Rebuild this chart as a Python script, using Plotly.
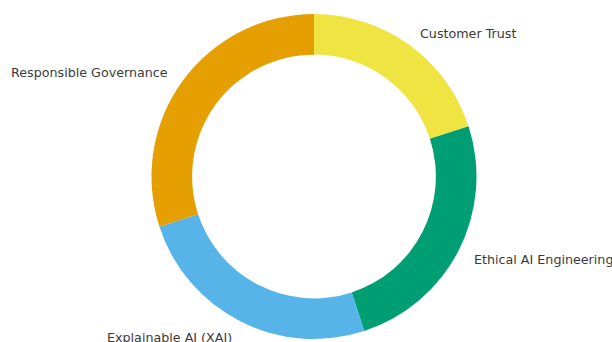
import math
import plotly.graph_objects as go

labels = ["Customer Trust", "Ethical AI Engineering", "Explainable AI (XAI)", "Responsible Governance"]
values = [20, 25, 25, 30]
colors = ["#F0E442", "#009E73", "#56B4E9", "#E69F00"]

W, H = 612, 342
cx, cy, R = 314, 176.5, 162.5
hole = 0.75
label_dy = 1.5

fig = go.Figure(go.Pie(
    labels=labels, values=values, sort=False, direction="clockwise", rotation=0,
    hole=hole, marker=dict(colors=colors, line=dict(width=0)),
    textinfo="none", hoverinfo="label+percent", showlegend=False,
    domain=dict(x=[(cx - R) / W, (cx + R) / W], y=[1 - (cy + R) / H, 1 - (cy - R) / H]),
))

total = sum(values)
cum = 0
annotations = []
for lab, v in zip(labels, values):
    mid = (cum + v / 2) / total * 2 * math.pi
    cum += v
    lx = cx + 1.1 * R * math.sin(mid)
    ly = cy - 1.1 * R * math.cos(mid) + label_dy
    annotations.append(dict(
        x=lx / W, y=1 - ly / H, xref="paper", yref="paper", text=lab, showarrow=False,
        xanchor="left" if math.sin(mid) > 0 else "right", yanchor="middle",
        xshift=-1 if math.sin(mid) > 0 else 1,
        font=dict(family="DejaVu Sans", size=12.7, color="#3a3a3a"),
    ))

fig.update_layout(
    width=W, height=H, margin=dict(l=0, r=0, t=0, b=0),
    paper_bgcolor="white", plot_bgcolor="white", annotations=annotations,
)
fig.write_html("out.html")
